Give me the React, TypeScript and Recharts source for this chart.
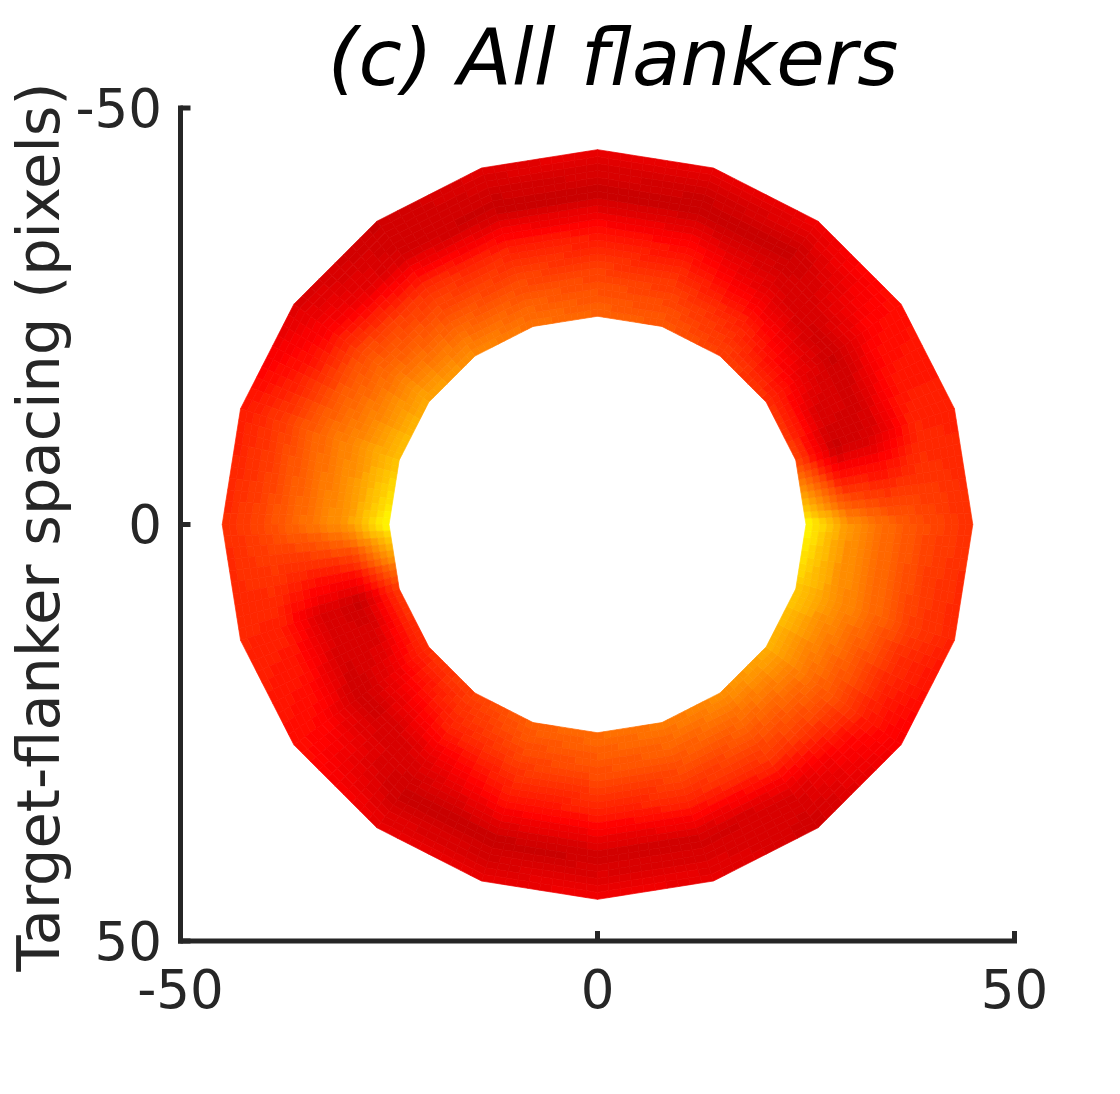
import React from 'react';
import { ScatterChart, Scatter, XAxis, YAxis } from 'recharts';

// Axis ticks
const TICKS = [-50, 0, 50];

// Node angles (degrees, counter-clockwise on screen from the +x direction)
const NODE_ANGLES = [0, 18, 36, 54, 72, 90, 108, 126, 144, 162, 180, 198, 216, 234, 252, 270, 288, 306, 324, 342];
// Node radii (pixels)
const NODE_RADII = [25, 30, 35, 40, 45];

// Normalised values at each node (one array per radius)
const V_R25 = [1.0, 0.44, 0.37, 0.42, 0.5, 0.53, 0.58, 0.65, 0.74, 0.82, 1.0, 0.4, 0.37, 0.42, 0.52, 0.56, 0.6, 0.66, 0.76, 0.84];
const V_R30 = [0.68, 0.04, 0.17, 0.32, 0.4, 0.43, 0.46, 0.5, 0.58, 0.66, 0.7, 0.04, 0.17, 0.33, 0.42, 0.46, 0.48, 0.52, 0.6, 0.67];
const V_R35 = [0.54, 0.1, 0.04, 0.13, 0.26, 0.29, 0.32, 0.37, 0.45, 0.54, 0.57, 0.12, 0.05, 0.13, 0.28, 0.3, 0.34, 0.38, 0.47, 0.54];
const V_R40 = [0.44, 0.33, 0.23, 0.04, 0.02, 0.03, 0.03, 0.08, 0.22, 0.4, 0.45, 0.32, 0.23, 0.04, 0.03, 0.05, 0.06, 0.11, 0.3, 0.4];
const V_R45 = [0.37, 0.32, 0.27, 0.18, 0.15, 0.17, 0.13, 0.05, 0.1, 0.3, 0.36, 0.34, 0.27, 0.17, 0.15, 0.2, 0.16, 0.06, 0.2, 0.33];

const NODE_VALUES = [V_R25, V_R30, V_R35, V_R40, V_R45];

// rendering subdivision (contour-fill look)
const ANG_SUB = 10;
const RAD_SUB = 6;
const LEVELS = 36;

const NK = NODE_ANGLES.length;
const NA = NK * ANG_SUB;
const NR = (NODE_RADII.length - 1) * RAD_SUB + 1;

function hot(v: number): string {
  const c = Math.max(0, Math.min(1, v));
  const knee = 0.23;
  let r = 255;
  let g = 0;
  if (c < knee) {
    r = Math.round(190 + 65 * (c / knee));
  } else {
    g = Math.round((255 * (c - knee)) / (1 - knee));
  }
  return `rgb(${r},${g},0)`;
}

function nodeXY(k: number, r: number) {
  const ang = (NODE_ANGLES[k % NK] * Math.PI) / 180;
  return { x: r * Math.cos(ang), y: -r * Math.sin(ang) };
}

// grid vertices (data coordinates) for the library's scales; straight edges between nodes
const gridPoints: { x: number; y: number }[] = [];
for (let k = 0; k < NK; k++) {
  for (let s = 0; s < ANG_SUB; s++) {
    const u = s / ANG_SUB;
    for (let j = 0; j < NR; j++) {
      const m = Math.min(Math.floor(j / RAD_SUB), NODE_RADII.length - 2);
      const t = (j - m * RAD_SUB) / RAD_SUB;
      const r = NODE_RADII[m] + (NODE_RADII[m + 1] - NODE_RADII[m]) * t;
      const pa = nodeXY(k, r);
      const pb = nodeXY(k + 1, r);
      gridPoints.push({ x: pa.x + (pb.x - pa.x) * u, y: pa.y + (pb.y - pa.y) * u });
    }
  }
}

// cell colours
const cellColors: string[] = [];
for (let k = 0; k < NK; k++) {
  const k2 = (k + 1) % NK;
  for (let s = 0; s < ANG_SUB; s++) {
    const u = (s + 0.5) / ANG_SUB;
    for (let j = 0; j < NR - 1; j++) {
      const m = Math.floor(j / RAD_SUB);
      const w = (j - m * RAD_SUB + 0.5) / RAD_SUB;
      const v =
        (1 - u) * (1 - w) * NODE_VALUES[m][k] +
        u * (1 - w) * NODE_VALUES[m][k2] +
        (1 - u) * w * NODE_VALUES[m + 1][k] +
        u * w * NODE_VALUES[m + 1][k2];
      const lvl = Math.max(0, Math.min(LEVELS - 1, Math.floor(v * LEVELS)));
      cellColors.push(hot((lvl + 0.5) / LEVELS));
    }
  }
}

const renderCells = (props: any) => {
  const pts = props && props.points ? props.points : [];
  if (pts.length < NA * NR) return <g />;
  const paths: React.ReactElement[] = [];
  for (let a = 0; a < NA; a++) {
    const a2 = (a + 1) % NA;
    for (let j = 0; j < NR - 1; j++) {
      const p1 = pts[a * NR + j];
      const p2 = pts[a2 * NR + j];
      const p3 = pts[a2 * NR + j + 1];
      const p4 = pts[a * NR + j + 1];
      const c = cellColors[a * (NR - 1) + j];
      const d = `M${p1.x.toFixed(2)},${p1.y.toFixed(2)}L${p2.x.toFixed(2)},${p2.y.toFixed(2)}L${p3.x.toFixed(2)},${p3.y.toFixed(2)}L${p4.x.toFixed(2)},${p4.y.toFixed(2)}Z`;
      paths.push(<path key={`${a}-${j}`} d={d} fill={c} stroke={c} strokeWidth={0.7} strokeLinejoin="round" />);
    }
  }
  return <g>{paths}</g>;
};

const AXIS_COLOR = '#262626';
const FONT = "'DejaVu Sans', 'Liberation Sans', sans-serif";

export default function App() {
  return (
    <div style={{ position: 'relative', width: 1104, height: 1078 }}>
      <ScatterChart width={1104} height={1078} margin={{ top: 100, right: 97.5, bottom: 45, left: 52.5 }}>
        <XAxis
          type="number"
          dataKey="x"
          domain={[-50, 50]}
          ticks={TICKS}
          interval={0}
          allowDataOverflow
          height={100}
          stroke={AXIS_COLOR}
          axisLine={{ stroke: AXIS_COLOR, strokeWidth: 5, strokeLinecap: 'square' }}
          tickLine={{ stroke: AXIS_COLOR, strokeWidth: 5 }}
          tickSize={-10}
          tickMargin={39}
          tick={{ fill: AXIS_COLOR, fontSize: 53, fontFamily: FONT }}
        />
        <YAxis
          type="number"
          dataKey="y"
          domain={[-50, 50]}
          reversed
          ticks={TICKS}
          interval={0}
          allowDataOverflow
          width={120}
          stroke={AXIS_COLOR}
          axisLine={{ stroke: AXIS_COLOR, strokeWidth: 5, strokeLinecap: 'square' }}
          tickLine={{ stroke: AXIS_COLOR, strokeWidth: 5 }}
          tickSize={-10}
          tickMargin={28.5}
          tick={{ fill: AXIS_COLOR, fontSize: 53, fontFamily: FONT }}
        />
        <Scatter
          data={gridPoints}
          line={renderCells}
          lineType="joint"
          shape={() => <g />}
          legendType="none"
          isAnimationActive={false}
        />
      </ScatterChart>
      <svg
        width={1104}
        height={1078}
        style={{ position: 'absolute', left: 0, top: 0, pointerEvents: 'none' }}
      >
        <text x={605} y={77} textAnchor="middle" fontSize={79} fontStyle="italic" fontFamily={FONT} fill="#000">
          (c) All flankers
        </text>
        <text
          x={51}
          y={519}
          textAnchor="middle"
          fontSize={59}
          fontFamily={FONT}
          fill={AXIS_COLOR}
          transform="rotate(-90, 51, 519)"
        >
          Target-flanker spacing (pixels)
        </text>
      </svg>
    </div>
  );
}
